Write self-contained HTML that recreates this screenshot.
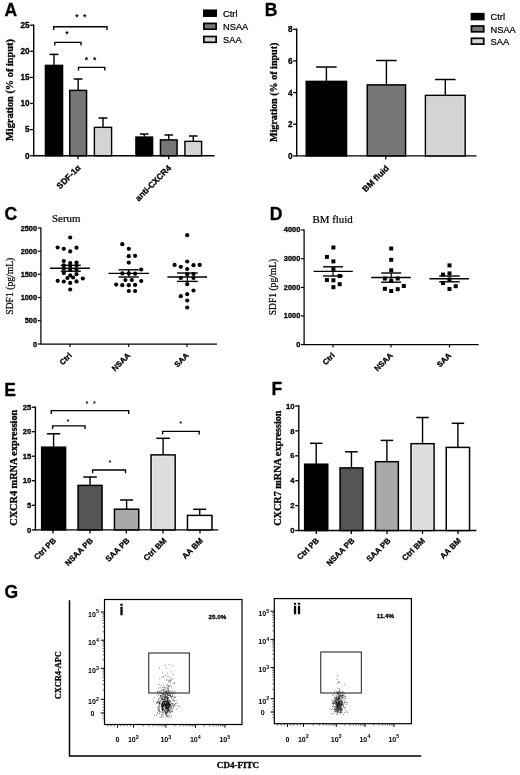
<!DOCTYPE html>
<html><head><meta charset="utf-8"><title>Figure</title>
<style>html,body{margin:0;padding:0;background:#fff}svg{display:block;filter:blur(0.35px)}</style></head>
<body><svg width="520" height="775" viewBox="0 0 520 775">
<rect width="520" height="775" fill="#fff"/>
<text x="4.60" y="15.80" font-family="Liberation Sans, sans-serif" font-size="17.5" font-weight="bold" stroke="#000" stroke-width="0.3" text-anchor="start">A</text>
<line x1="33.70" y1="24.50" x2="33.70" y2="156.40" stroke="#000" stroke-width="1.4"/>
<line x1="30.10" y1="25.20" x2="33.70" y2="25.20" stroke="#000" stroke-width="1.2999999999999998"/>
<text x="29.50" y="28.00" font-family="Liberation Sans, sans-serif" font-size="8.2" font-weight="bold" stroke="#000" stroke-width="0.3" text-anchor="end">25</text>
<line x1="30.10" y1="51.30" x2="33.70" y2="51.30" stroke="#000" stroke-width="1.2999999999999998"/>
<text x="29.50" y="54.10" font-family="Liberation Sans, sans-serif" font-size="8.2" font-weight="bold" stroke="#000" stroke-width="0.3" text-anchor="end">20</text>
<line x1="30.10" y1="77.40" x2="33.70" y2="77.40" stroke="#000" stroke-width="1.2999999999999998"/>
<text x="29.50" y="80.20" font-family="Liberation Sans, sans-serif" font-size="8.2" font-weight="bold" stroke="#000" stroke-width="0.3" text-anchor="end">15</text>
<line x1="30.10" y1="103.50" x2="33.70" y2="103.50" stroke="#000" stroke-width="1.2999999999999998"/>
<text x="29.50" y="106.30" font-family="Liberation Sans, sans-serif" font-size="8.2" font-weight="bold" stroke="#000" stroke-width="0.3" text-anchor="end">10</text>
<line x1="30.10" y1="129.60" x2="33.70" y2="129.60" stroke="#000" stroke-width="1.2999999999999998"/>
<text x="29.50" y="132.40" font-family="Liberation Sans, sans-serif" font-size="8.2" font-weight="bold" stroke="#000" stroke-width="0.3" text-anchor="end">5</text>
<line x1="30.10" y1="155.70" x2="33.70" y2="155.70" stroke="#000" stroke-width="1.2999999999999998"/>
<text x="29.50" y="158.50" font-family="Liberation Sans, sans-serif" font-size="8.2" font-weight="bold" stroke="#000" stroke-width="0.3" text-anchor="end">0</text>
<line x1="33.70" y1="155.70" x2="214.50" y2="155.70" stroke="#000" stroke-width="1.4"/>
<line x1="78.00" y1="155.70" x2="78.00" y2="159.20" stroke="#000" stroke-width="1.2999999999999998"/>
<line x1="168.70" y1="155.70" x2="168.70" y2="159.20" stroke="#000" stroke-width="1.2999999999999998"/>
<line x1="54.00" y1="54.40" x2="54.00" y2="65.40" stroke="#000" stroke-width="1.4"/>
<line x1="49.55" y1="54.40" x2="58.45" y2="54.40" stroke="#000" stroke-width="1.5"/>
<rect x="45.45" y="65.40" width="17.10" height="90.30" fill="#000" stroke="#000" stroke-width="1.5"/>
<line x1="78.15" y1="79.00" x2="78.15" y2="90.40" stroke="#000" stroke-width="1.4"/>
<line x1="73.78" y1="79.00" x2="82.52" y2="79.00" stroke="#000" stroke-width="1.5"/>
<rect x="69.75" y="90.40" width="16.80" height="65.30" fill="#777777" stroke="#000" stroke-width="1.5"/>
<line x1="103.00" y1="118.00" x2="103.00" y2="127.40" stroke="#000" stroke-width="1.4"/>
<line x1="98.55" y1="118.00" x2="107.45" y2="118.00" stroke="#000" stroke-width="1.5"/>
<rect x="94.45" y="127.40" width="17.10" height="28.30" fill="#f4f4f4" stroke="#000" stroke-width="1.5"/>
<rect x="95.95" y="128.90" width="14.10" height="25.90" fill="#d4d4d4"/>
<line x1="144.25" y1="134.00" x2="144.25" y2="137.10" stroke="#000" stroke-width="1.4"/>
<line x1="139.93" y1="134.00" x2="148.57" y2="134.00" stroke="#000" stroke-width="1.5"/>
<rect x="135.95" y="137.10" width="16.60" height="18.60" fill="#000" stroke="#000" stroke-width="1.5"/>
<line x1="168.75" y1="135.00" x2="168.75" y2="139.90" stroke="#000" stroke-width="1.4"/>
<line x1="164.43" y1="135.00" x2="173.07" y2="135.00" stroke="#000" stroke-width="1.5"/>
<rect x="160.45" y="139.90" width="16.60" height="15.80" fill="#777777" stroke="#000" stroke-width="1.5"/>
<line x1="193.25" y1="136.00" x2="193.25" y2="141.40" stroke="#000" stroke-width="1.4"/>
<line x1="188.93" y1="136.00" x2="197.57" y2="136.00" stroke="#000" stroke-width="1.5"/>
<rect x="184.95" y="141.40" width="16.60" height="14.30" fill="#f4f4f4" stroke="#000" stroke-width="1.5"/>
<rect x="186.45" y="142.90" width="13.60" height="11.90" fill="#d4d4d4"/>
<path d="M53.70 30.00V26.70H107.00V30.00" fill="none" stroke="#000" stroke-width="1.35"/>
<path d="M54.80 45.60V42.30H81.00V45.60" fill="none" stroke="#000" stroke-width="1.35"/>
<path d="M78.50 70.60V67.30H104.80V70.60" fill="none" stroke="#000" stroke-width="1.35"/>
<text x="76.90" y="19.57" font-family="Liberation Sans, sans-serif" font-size="8.5" font-weight="bold" text-anchor="middle">*</text>
<text x="84.75" y="19.57" font-family="Liberation Sans, sans-serif" font-size="8.5" font-weight="bold" text-anchor="middle">*</text>
<text x="66.90" y="37.43" font-family="Liberation Sans, sans-serif" font-size="8.5" font-weight="bold" text-anchor="middle">*</text>
<text x="86.50" y="62.58" font-family="Liberation Sans, sans-serif" font-size="8.5" font-weight="bold" text-anchor="middle">*</text>
<text x="94.60" y="62.58" font-family="Liberation Sans, sans-serif" font-size="8.5" font-weight="bold" text-anchor="middle">*</text>
<text x="81.20" y="168.30" font-family="Liberation Sans, sans-serif" font-size="8.5" font-weight="bold" stroke="#000" stroke-width="0.3" text-anchor="end" transform="rotate(-45 81.20 168.30)">SDF-1α</text>
<text x="171.80" y="168.60" font-family="Liberation Sans, sans-serif" font-size="8.5" font-weight="bold" stroke="#000" stroke-width="0.3" text-anchor="end" transform="rotate(-45 171.80 168.60)">anti-CXCR4</text>
<text x="13.30" y="90.00" font-family="Liberation Serif, serif" font-size="10.8" font-weight="bold" stroke="#000" stroke-width="0.3" text-anchor="middle" transform="rotate(-90 13.30 90.00)" textLength="102" lengthAdjust="spacingAndGlyphs">Migration (% of input)</text>
<rect x="203.85" y="10.30" width="12.30" height="5.80" fill="#000" stroke="#000" stroke-width="1.7"/>
<text x="223.00" y="17.10" font-family="Liberation Sans, sans-serif" font-size="9.3" font-weight="normal" stroke="#000" stroke-width="0.22" text-anchor="start">Ctrl</text>
<rect x="203.85" y="23.40" width="12.30" height="5.80" fill="#777777" stroke="#000" stroke-width="1.7"/>
<text x="223.00" y="30.20" font-family="Liberation Sans, sans-serif" font-size="9.3" font-weight="normal" stroke="#000" stroke-width="0.22" text-anchor="start">NSAA</text>
<rect x="203.85" y="36.50" width="12.30" height="5.80" fill="#d4d4d4" stroke="#000" stroke-width="1.7"/>
<text x="223.00" y="43.30" font-family="Liberation Sans, sans-serif" font-size="9.3" font-weight="normal" stroke="#000" stroke-width="0.22" text-anchor="start">SAA</text>
<text x="264.70" y="15.60" font-family="Liberation Sans, sans-serif" font-size="17.5" font-weight="bold" stroke="#000" stroke-width="0.3" text-anchor="start">B</text>
<line x1="296.70" y1="28.60" x2="296.70" y2="156.60" stroke="#000" stroke-width="1.4"/>
<line x1="293.10" y1="29.30" x2="296.70" y2="29.30" stroke="#000" stroke-width="1.2999999999999998"/>
<text x="292.50" y="32.35" font-family="Liberation Sans, sans-serif" font-size="8.2" font-weight="bold" stroke="#000" stroke-width="0.3" text-anchor="end">8</text>
<line x1="293.10" y1="60.90" x2="296.70" y2="60.90" stroke="#000" stroke-width="1.2999999999999998"/>
<text x="292.50" y="63.95" font-family="Liberation Sans, sans-serif" font-size="8.2" font-weight="bold" stroke="#000" stroke-width="0.3" text-anchor="end">6</text>
<line x1="293.10" y1="92.60" x2="296.70" y2="92.60" stroke="#000" stroke-width="1.2999999999999998"/>
<text x="292.50" y="95.65" font-family="Liberation Sans, sans-serif" font-size="8.2" font-weight="bold" stroke="#000" stroke-width="0.3" text-anchor="end">4</text>
<line x1="293.10" y1="124.20" x2="296.70" y2="124.20" stroke="#000" stroke-width="1.2999999999999998"/>
<text x="292.50" y="127.25" font-family="Liberation Sans, sans-serif" font-size="8.2" font-weight="bold" stroke="#000" stroke-width="0.3" text-anchor="end">2</text>
<line x1="293.10" y1="155.90" x2="296.70" y2="155.90" stroke="#000" stroke-width="1.2999999999999998"/>
<text x="292.50" y="158.95" font-family="Liberation Sans, sans-serif" font-size="8.2" font-weight="bold" stroke="#000" stroke-width="0.3" text-anchor="end">0</text>
<line x1="296.70" y1="155.90" x2="476.50" y2="155.90" stroke="#000" stroke-width="1.4"/>
<line x1="385.80" y1="155.90" x2="385.80" y2="159.40" stroke="#000" stroke-width="1.2999999999999998"/>
<line x1="326.40" y1="67.00" x2="326.40" y2="81.40" stroke="#000" stroke-width="1.4"/>
<line x1="316.15" y1="67.00" x2="336.65" y2="67.00" stroke="#000" stroke-width="1.5"/>
<rect x="306.25" y="81.40" width="40.30" height="74.50" fill="#000" stroke="#000" stroke-width="1.5"/>
<line x1="386.40" y1="60.50" x2="386.40" y2="84.90" stroke="#000" stroke-width="1.4"/>
<line x1="376.15" y1="60.50" x2="396.65" y2="60.50" stroke="#000" stroke-width="1.5"/>
<rect x="367.25" y="84.90" width="38.30" height="71.00" fill="#777777" stroke="#000" stroke-width="1.5"/>
<line x1="445.30" y1="79.50" x2="445.30" y2="95.40" stroke="#000" stroke-width="1.4"/>
<line x1="435.05" y1="79.50" x2="455.55" y2="79.50" stroke="#000" stroke-width="1.5"/>
<rect x="425.45" y="95.40" width="39.70" height="60.50" fill="#f4f4f4" stroke="#000" stroke-width="1.5"/>
<rect x="426.95" y="96.90" width="36.70" height="58.10" fill="#d4d4d4"/>
<text x="389.50" y="168.80" font-family="Liberation Sans, sans-serif" font-size="8.5" font-weight="bold" stroke="#000" stroke-width="0.3" text-anchor="end" transform="rotate(-45 389.50 168.80)">BM fluid</text>
<text x="277.20" y="92.30" font-family="Liberation Serif, serif" font-size="10.8" font-weight="bold" stroke="#000" stroke-width="0.3" text-anchor="middle" transform="rotate(-90 277.20 92.30)" textLength="99.5" lengthAdjust="spacingAndGlyphs">Migration (% of input)</text>
<rect x="471.45" y="13.70" width="12.30" height="5.80" fill="#000" stroke="#000" stroke-width="1.7"/>
<text x="490.50" y="20.30" font-family="Liberation Sans, sans-serif" font-size="9.3" font-weight="normal" stroke="#000" stroke-width="0.22" text-anchor="start">Ctrl</text>
<rect x="471.45" y="26.00" width="12.30" height="5.80" fill="#777777" stroke="#000" stroke-width="1.7"/>
<text x="490.50" y="32.60" font-family="Liberation Sans, sans-serif" font-size="9.3" font-weight="normal" stroke="#000" stroke-width="0.22" text-anchor="start">NSAA</text>
<rect x="471.45" y="38.30" width="12.30" height="5.80" fill="#d4d4d4" stroke="#000" stroke-width="1.7"/>
<text x="490.50" y="44.90" font-family="Liberation Sans, sans-serif" font-size="9.3" font-weight="normal" stroke="#000" stroke-width="0.22" text-anchor="start">SAA</text>
<text x="4.60" y="219.70" font-family="Liberation Sans, sans-serif" font-size="17.5" font-weight="bold" stroke="#000" stroke-width="0.3" text-anchor="start">C</text>
<text x="52.00" y="221.50" font-family="Liberation Serif, serif" font-size="10.9" font-weight="normal" stroke="#000" stroke-width="0.22" text-anchor="start">Serum</text>
<line x1="40.90" y1="227.38" x2="40.90" y2="344.62" stroke="#000" stroke-width="1.25"/>
<line x1="37.70" y1="228.00" x2="40.90" y2="228.00" stroke="#000" stroke-width="1.15"/>
<text x="37.10" y="230.56" font-family="Liberation Sans, sans-serif" font-size="7.4" font-weight="bold" stroke="#000" stroke-width="0.3" text-anchor="end">2500</text>
<line x1="37.70" y1="251.20" x2="40.90" y2="251.20" stroke="#000" stroke-width="1.15"/>
<text x="37.10" y="253.76" font-family="Liberation Sans, sans-serif" font-size="7.4" font-weight="bold" stroke="#000" stroke-width="0.3" text-anchor="end">2000</text>
<line x1="37.70" y1="274.30" x2="40.90" y2="274.30" stroke="#000" stroke-width="1.15"/>
<text x="37.10" y="276.86" font-family="Liberation Sans, sans-serif" font-size="7.4" font-weight="bold" stroke="#000" stroke-width="0.3" text-anchor="end">1500</text>
<line x1="37.70" y1="297.50" x2="40.90" y2="297.50" stroke="#000" stroke-width="1.15"/>
<text x="37.10" y="300.06" font-family="Liberation Sans, sans-serif" font-size="7.4" font-weight="bold" stroke="#000" stroke-width="0.3" text-anchor="end">1000</text>
<line x1="37.70" y1="320.70" x2="40.90" y2="320.70" stroke="#000" stroke-width="1.15"/>
<text x="37.10" y="323.26" font-family="Liberation Sans, sans-serif" font-size="7.4" font-weight="bold" stroke="#000" stroke-width="0.3" text-anchor="end">500</text>
<line x1="37.70" y1="344.00" x2="40.90" y2="344.00" stroke="#000" stroke-width="1.15"/>
<text x="37.10" y="346.56" font-family="Liberation Sans, sans-serif" font-size="7.4" font-weight="bold" stroke="#000" stroke-width="0.3" text-anchor="end">0</text>
<line x1="40.90" y1="344.00" x2="217.00" y2="344.00" stroke="#000" stroke-width="1.25"/>
<line x1="70.00" y1="344.00" x2="70.00" y2="347.00" stroke="#000" stroke-width="1.15"/>
<line x1="128.70" y1="344.00" x2="128.70" y2="347.00" stroke="#000" stroke-width="1.15"/>
<line x1="187.00" y1="344.00" x2="187.00" y2="347.00" stroke="#000" stroke-width="1.15"/>
<circle cx="70.2" cy="237.5" r="2.1" fill="#000"/>
<circle cx="57.7" cy="247.5" r="2.1" fill="#000"/>
<circle cx="63.8" cy="248.8" r="2.1" fill="#000"/>
<circle cx="76.5" cy="247.7" r="2.1" fill="#000"/>
<circle cx="70.2" cy="251.4" r="2.1" fill="#000"/>
<circle cx="63.8" cy="261.1" r="2.1" fill="#000"/>
<circle cx="70.2" cy="263.1" r="2.1" fill="#000"/>
<circle cx="76.5" cy="262.6" r="2.1" fill="#000"/>
<circle cx="63.8" cy="265.4" r="2.1" fill="#000"/>
<circle cx="70.2" cy="265.8" r="2.1" fill="#000"/>
<circle cx="76.5" cy="265.6" r="2.1" fill="#000"/>
<circle cx="63.8" cy="268.8" r="2.1" fill="#000"/>
<circle cx="70.2" cy="270" r="2.1" fill="#000"/>
<circle cx="76.5" cy="269.5" r="2.1" fill="#000"/>
<circle cx="63.8" cy="273.1" r="2.1" fill="#000"/>
<circle cx="76.5" cy="274.2" r="2.1" fill="#000"/>
<circle cx="70.2" cy="275.4" r="2.1" fill="#000"/>
<circle cx="67.4" cy="278" r="2.1" fill="#000"/>
<circle cx="73.1" cy="277.5" r="2.1" fill="#000"/>
<circle cx="82.8" cy="278.5" r="2.1" fill="#000"/>
<circle cx="57.7" cy="280.8" r="2.1" fill="#000"/>
<circle cx="63.8" cy="281.5" r="2.1" fill="#000"/>
<circle cx="76.5" cy="281.4" r="2.1" fill="#000"/>
<circle cx="70.2" cy="282.9" r="2.1" fill="#000"/>
<circle cx="70.2" cy="289.5" r="2.1" fill="#000"/>
<line x1="50.00" y1="268.30" x2="90.00" y2="268.30" stroke="#000" stroke-width="1.4"/>
<line x1="60.80" y1="265.30" x2="80.80" y2="265.30" stroke="#000" stroke-width="1.4"/>
<line x1="60.80" y1="271.20" x2="80.80" y2="271.20" stroke="#000" stroke-width="1.4"/>
<line x1="70.80" y1="265.30" x2="70.80" y2="271.20" stroke="#000" stroke-width="1.2"/>
<circle cx="122.3" cy="244.2" r="2.1" fill="#000"/>
<circle cx="128.8" cy="248.8" r="2.1" fill="#000"/>
<circle cx="128.8" cy="256.2" r="2.1" fill="#000"/>
<circle cx="135.1" cy="255.8" r="2.1" fill="#000"/>
<circle cx="128.8" cy="262.6" r="2.1" fill="#000"/>
<circle cx="141.2" cy="269.5" r="2.1" fill="#000"/>
<circle cx="122.3" cy="273.4" r="2.1" fill="#000"/>
<circle cx="128.8" cy="273.4" r="2.1" fill="#000"/>
<circle cx="135.1" cy="273.7" r="2.1" fill="#000"/>
<circle cx="125.4" cy="280" r="2.1" fill="#000"/>
<circle cx="131.8" cy="280" r="2.1" fill="#000"/>
<circle cx="141.2" cy="281" r="2.1" fill="#000"/>
<circle cx="116.2" cy="284.6" r="2.1" fill="#000"/>
<circle cx="122.3" cy="285.2" r="2.1" fill="#000"/>
<circle cx="128.8" cy="285.2" r="2.1" fill="#000"/>
<circle cx="135.1" cy="284.9" r="2.1" fill="#000"/>
<circle cx="128.8" cy="291" r="2.1" fill="#000"/>
<circle cx="135.1" cy="291" r="2.1" fill="#000"/>
<line x1="108.50" y1="273.40" x2="149.00" y2="273.40" stroke="#000" stroke-width="1.4"/>
<line x1="118.50" y1="269.80" x2="138.80" y2="269.80" stroke="#000" stroke-width="1.4"/>
<line x1="118.50" y1="277.00" x2="138.80" y2="277.00" stroke="#000" stroke-width="1.4"/>
<line x1="128.65" y1="269.80" x2="128.65" y2="277.00" stroke="#000" stroke-width="1.2"/>
<circle cx="187.2" cy="235.2" r="2.1" fill="#000"/>
<circle cx="187.2" cy="261.5" r="2.1" fill="#000"/>
<circle cx="174.6" cy="264.9" r="2.1" fill="#000"/>
<circle cx="180.8" cy="266.8" r="2.1" fill="#000"/>
<circle cx="193.5" cy="265.2" r="2.1" fill="#000"/>
<circle cx="199.7" cy="264.9" r="2.1" fill="#000"/>
<circle cx="187.2" cy="269.1" r="2.1" fill="#000"/>
<circle cx="187.2" cy="274.2" r="2.1" fill="#000"/>
<circle cx="193.5" cy="274" r="2.1" fill="#000"/>
<circle cx="180.8" cy="278" r="2.1" fill="#000"/>
<circle cx="193.5" cy="278" r="2.1" fill="#000"/>
<circle cx="187.2" cy="284.2" r="2.1" fill="#000"/>
<circle cx="193.5" cy="290.5" r="2.1" fill="#000"/>
<circle cx="187.2" cy="294.2" r="2.1" fill="#000"/>
<circle cx="180.8" cy="296.2" r="2.1" fill="#000"/>
<circle cx="187.2" cy="300.5" r="2.1" fill="#000"/>
<circle cx="187.2" cy="307.5" r="2.1" fill="#000"/>
<line x1="167.40" y1="277.00" x2="207.00" y2="277.00" stroke="#000" stroke-width="1.4"/>
<line x1="177.00" y1="273.00" x2="197.70" y2="273.00" stroke="#000" stroke-width="1.4"/>
<line x1="177.00" y1="281.40" x2="197.70" y2="281.40" stroke="#000" stroke-width="1.4"/>
<line x1="187.35" y1="273.00" x2="187.35" y2="281.40" stroke="#000" stroke-width="1.2"/>
<text x="72.20" y="356.00" font-family="Liberation Sans, sans-serif" font-size="7.8" font-weight="bold" stroke="#000" stroke-width="0.3" text-anchor="end" transform="rotate(-45 72.20 356.00)">Ctrl</text>
<text x="130.70" y="356.00" font-family="Liberation Sans, sans-serif" font-size="7.8" font-weight="bold" stroke="#000" stroke-width="0.3" text-anchor="end" transform="rotate(-45 130.70 356.00)">NSAA</text>
<text x="189.20" y="356.00" font-family="Liberation Sans, sans-serif" font-size="7.8" font-weight="bold" stroke="#000" stroke-width="0.3" text-anchor="end" transform="rotate(-45 189.20 356.00)">SAA</text>
<text x="13.40" y="286.20" font-family="Liberation Serif, serif" font-size="9.5" font-weight="normal" stroke="#000" stroke-width="0.22" text-anchor="middle" transform="rotate(-90 13.40 286.20)" textLength="57" lengthAdjust="spacingAndGlyphs">SDF1 (pg/mL)</text>
<text x="269.70" y="220.20" font-family="Liberation Sans, sans-serif" font-size="17.5" font-weight="bold" stroke="#000" stroke-width="0.3" text-anchor="start">D</text>
<text x="312.50" y="222.50" font-family="Liberation Serif, serif" font-size="10.9" font-weight="normal" stroke="#000" stroke-width="0.22" text-anchor="start">BM fluid</text>
<line x1="304.10" y1="229.38" x2="304.10" y2="345.23" stroke="#000" stroke-width="1.25"/>
<line x1="300.90" y1="230.00" x2="304.10" y2="230.00" stroke="#000" stroke-width="1.15"/>
<text x="300.30" y="232.26" font-family="Liberation Sans, sans-serif" font-size="7.4" font-weight="bold" stroke="#000" stroke-width="0.3" text-anchor="end">4000</text>
<line x1="300.90" y1="258.70" x2="304.10" y2="258.70" stroke="#000" stroke-width="1.15"/>
<text x="300.30" y="260.96" font-family="Liberation Sans, sans-serif" font-size="7.4" font-weight="bold" stroke="#000" stroke-width="0.3" text-anchor="end">3000</text>
<line x1="300.90" y1="287.40" x2="304.10" y2="287.40" stroke="#000" stroke-width="1.15"/>
<text x="300.30" y="289.66" font-family="Liberation Sans, sans-serif" font-size="7.4" font-weight="bold" stroke="#000" stroke-width="0.3" text-anchor="end">2000</text>
<line x1="300.90" y1="316.00" x2="304.10" y2="316.00" stroke="#000" stroke-width="1.15"/>
<text x="300.30" y="318.26" font-family="Liberation Sans, sans-serif" font-size="7.4" font-weight="bold" stroke="#000" stroke-width="0.3" text-anchor="end">1000</text>
<line x1="300.90" y1="344.60" x2="304.10" y2="344.60" stroke="#000" stroke-width="1.15"/>
<text x="300.30" y="346.86" font-family="Liberation Sans, sans-serif" font-size="7.4" font-weight="bold" stroke="#000" stroke-width="0.3" text-anchor="end">0</text>
<line x1="304.10" y1="344.60" x2="478.70" y2="344.60" stroke="#000" stroke-width="1.25"/>
<line x1="333.00" y1="344.60" x2="333.00" y2="347.60" stroke="#000" stroke-width="1.15"/>
<line x1="391.00" y1="344.60" x2="391.00" y2="347.60" stroke="#000" stroke-width="1.15"/>
<line x1="449.50" y1="344.60" x2="449.50" y2="347.60" stroke="#000" stroke-width="1.15"/>
<rect x="331.40" y="245.50" width="4.0" height="4.0" fill="#000"/>
<rect x="324.90" y="254.90" width="4.0" height="4.0" fill="#000"/>
<rect x="331.40" y="259.40" width="4.0" height="4.0" fill="#000"/>
<rect x="331.40" y="267.20" width="4.0" height="4.0" fill="#000"/>
<rect x="337.70" y="274.00" width="4.0" height="4.0" fill="#000"/>
<rect x="324.90" y="278.00" width="4.0" height="4.0" fill="#000"/>
<rect x="331.40" y="278.30" width="4.0" height="4.0" fill="#000"/>
<rect x="337.70" y="282.20" width="4.0" height="4.0" fill="#000"/>
<rect x="331.40" y="285.20" width="4.0" height="4.0" fill="#000"/>
<line x1="313.50" y1="271.40" x2="352.80" y2="271.40" stroke="#000" stroke-width="1.4"/>
<line x1="323.00" y1="266.80" x2="343.00" y2="266.80" stroke="#000" stroke-width="1.4"/>
<line x1="323.00" y1="276.00" x2="343.00" y2="276.00" stroke="#000" stroke-width="1.4"/>
<line x1="333.00" y1="266.80" x2="333.00" y2="276.00" stroke="#000" stroke-width="1.2"/>
<rect x="389.20" y="246.50" width="4.0" height="4.0" fill="#000"/>
<rect x="389.20" y="257.80" width="4.0" height="4.0" fill="#000"/>
<rect x="389.20" y="268.30" width="4.0" height="4.0" fill="#000"/>
<rect x="382.90" y="276.50" width="4.0" height="4.0" fill="#000"/>
<rect x="395.70" y="276.50" width="4.0" height="4.0" fill="#000"/>
<rect x="389.20" y="279.00" width="4.0" height="4.0" fill="#000"/>
<rect x="401.80" y="284.00" width="4.0" height="4.0" fill="#000"/>
<rect x="382.90" y="286.80" width="4.0" height="4.0" fill="#000"/>
<rect x="395.70" y="287.20" width="4.0" height="4.0" fill="#000"/>
<rect x="389.20" y="289.00" width="4.0" height="4.0" fill="#000"/>
<line x1="371.00" y1="277.50" x2="410.80" y2="277.50" stroke="#000" stroke-width="1.4"/>
<line x1="381.20" y1="273.00" x2="401.20" y2="273.00" stroke="#000" stroke-width="1.4"/>
<line x1="381.20" y1="282.20" x2="401.20" y2="282.20" stroke="#000" stroke-width="1.4"/>
<line x1="391.20" y1="273.00" x2="391.20" y2="282.20" stroke="#000" stroke-width="1.2"/>
<rect x="447.50" y="263.40" width="4.0" height="4.0" fill="#000"/>
<rect x="447.50" y="271.40" width="4.0" height="4.0" fill="#000"/>
<rect x="441.00" y="272.60" width="4.0" height="4.0" fill="#000"/>
<rect x="447.50" y="277.50" width="4.0" height="4.0" fill="#000"/>
<rect x="441.00" y="281.00" width="4.0" height="4.0" fill="#000"/>
<rect x="453.70" y="284.20" width="4.0" height="4.0" fill="#000"/>
<rect x="447.50" y="287.00" width="4.0" height="4.0" fill="#000"/>
<line x1="429.50" y1="278.80" x2="469.00" y2="278.80" stroke="#000" stroke-width="1.4"/>
<line x1="439.20" y1="276.00" x2="459.70" y2="276.00" stroke="#000" stroke-width="1.4"/>
<line x1="439.20" y1="281.80" x2="459.70" y2="281.80" stroke="#000" stroke-width="1.4"/>
<line x1="449.45" y1="276.00" x2="449.45" y2="281.80" stroke="#000" stroke-width="1.2"/>
<text x="335.20" y="356.00" font-family="Liberation Sans, sans-serif" font-size="7.8" font-weight="bold" stroke="#000" stroke-width="0.3" text-anchor="end" transform="rotate(-45 335.20 356.00)">Ctrl</text>
<text x="393.20" y="356.00" font-family="Liberation Sans, sans-serif" font-size="7.8" font-weight="bold" stroke="#000" stroke-width="0.3" text-anchor="end" transform="rotate(-45 393.20 356.00)">NSAA</text>
<text x="451.70" y="356.00" font-family="Liberation Sans, sans-serif" font-size="7.8" font-weight="bold" stroke="#000" stroke-width="0.3" text-anchor="end" transform="rotate(-45 451.70 356.00)">SAA</text>
<text x="275.50" y="287.00" font-family="Liberation Serif, serif" font-size="9.5" font-weight="normal" stroke="#000" stroke-width="0.22" text-anchor="middle" transform="rotate(-90 275.50 287.00)" textLength="56.5" lengthAdjust="spacingAndGlyphs">SDF1 (pg/mL)</text>
<text x="4.20" y="395.70" font-family="Liberation Sans, sans-serif" font-size="17.5" font-weight="bold" stroke="#000" stroke-width="0.3" text-anchor="start">E</text>
<line x1="35.40" y1="406.50" x2="35.40" y2="530.60" stroke="#000" stroke-width="1.4"/>
<line x1="31.80" y1="407.20" x2="35.40" y2="407.20" stroke="#000" stroke-width="1.2999999999999998"/>
<text x="31.20" y="409.87" font-family="Liberation Sans, sans-serif" font-size="7.7" font-weight="bold" stroke="#000" stroke-width="0.3" text-anchor="end">25</text>
<line x1="31.80" y1="431.70" x2="35.40" y2="431.70" stroke="#000" stroke-width="1.2999999999999998"/>
<text x="31.20" y="434.37" font-family="Liberation Sans, sans-serif" font-size="7.7" font-weight="bold" stroke="#000" stroke-width="0.3" text-anchor="end">20</text>
<line x1="31.80" y1="456.20" x2="35.40" y2="456.20" stroke="#000" stroke-width="1.2999999999999998"/>
<text x="31.20" y="458.87" font-family="Liberation Sans, sans-serif" font-size="7.7" font-weight="bold" stroke="#000" stroke-width="0.3" text-anchor="end">15</text>
<line x1="31.80" y1="480.70" x2="35.40" y2="480.70" stroke="#000" stroke-width="1.2999999999999998"/>
<text x="31.20" y="483.37" font-family="Liberation Sans, sans-serif" font-size="7.7" font-weight="bold" stroke="#000" stroke-width="0.3" text-anchor="end">10</text>
<line x1="31.80" y1="505.30" x2="35.40" y2="505.30" stroke="#000" stroke-width="1.2999999999999998"/>
<text x="31.20" y="507.97" font-family="Liberation Sans, sans-serif" font-size="7.7" font-weight="bold" stroke="#000" stroke-width="0.3" text-anchor="end">5</text>
<line x1="31.80" y1="529.90" x2="35.40" y2="529.90" stroke="#000" stroke-width="1.2999999999999998"/>
<text x="31.20" y="532.57" font-family="Liberation Sans, sans-serif" font-size="7.7" font-weight="bold" stroke="#000" stroke-width="0.3" text-anchor="end">0</text>
<line x1="35.40" y1="529.90" x2="218.30" y2="529.90" stroke="#000" stroke-width="1.4"/>
<line x1="53.00" y1="529.90" x2="53.00" y2="533.40" stroke="#000" stroke-width="1.2999999999999998"/>
<line x1="90.00" y1="529.90" x2="90.00" y2="533.40" stroke="#000" stroke-width="1.2999999999999998"/>
<line x1="126.30" y1="529.90" x2="126.30" y2="533.40" stroke="#000" stroke-width="1.2999999999999998"/>
<line x1="163.00" y1="529.90" x2="163.00" y2="533.40" stroke="#000" stroke-width="1.2999999999999998"/>
<line x1="200.00" y1="529.90" x2="200.00" y2="533.40" stroke="#000" stroke-width="1.2999999999999998"/>
<line x1="53.60" y1="433.80" x2="53.60" y2="447.20" stroke="#000" stroke-width="1.4"/>
<line x1="46.85" y1="433.80" x2="60.35" y2="433.80" stroke="#000" stroke-width="1.5"/>
<rect x="41.65" y="447.20" width="23.90" height="82.70" fill="#000" stroke="#000" stroke-width="1.5"/>
<line x1="90.05" y1="477.00" x2="90.05" y2="485.40" stroke="#000" stroke-width="1.4"/>
<line x1="83.30" y1="477.00" x2="96.80" y2="477.00" stroke="#000" stroke-width="1.5"/>
<rect x="78.05" y="485.40" width="24.00" height="44.50" fill="#555555" stroke="#000" stroke-width="1.5"/>
<line x1="126.60" y1="500.00" x2="126.60" y2="509.20" stroke="#000" stroke-width="1.4"/>
<line x1="120.10" y1="500.00" x2="133.10" y2="500.00" stroke="#000" stroke-width="1.5"/>
<rect x="114.45" y="509.20" width="24.30" height="20.70" fill="#a9a9a9" stroke="#000" stroke-width="1.5"/>
<line x1="163.10" y1="438.30" x2="163.10" y2="454.90" stroke="#000" stroke-width="1.4"/>
<line x1="156.35" y1="438.30" x2="169.85" y2="438.30" stroke="#000" stroke-width="1.5"/>
<rect x="151.05" y="454.90" width="24.10" height="75.00" fill="#f4f4f4" stroke="#000" stroke-width="1.5"/>
<rect x="152.55" y="456.40" width="21.10" height="72.60" fill="#dddddd"/>
<line x1="199.70" y1="509.30" x2="199.70" y2="515.40" stroke="#000" stroke-width="1.4"/>
<line x1="193.20" y1="509.30" x2="206.20" y2="509.30" stroke="#000" stroke-width="1.5"/>
<rect x="187.45" y="515.40" width="24.50" height="14.50" fill="#fff" stroke="#000" stroke-width="1.5"/>
<path d="M51.20 413.90V410.60H128.70V413.90" fill="none" stroke="#000" stroke-width="1.35"/>
<path d="M52.60 429.10V425.80H85.00V429.10" fill="none" stroke="#000" stroke-width="1.35"/>
<path d="M92.60 473.30V470.00H125.50V473.30" fill="none" stroke="#000" stroke-width="1.35"/>
<path d="M162.60 434.60V431.30H199.20V434.60" fill="none" stroke="#000" stroke-width="1.35"/>
<text x="87.00" y="405.54" font-family="Liberation Sans, sans-serif" font-size="7.2" font-weight="bold" text-anchor="middle">*</text>
<text x="94.30" y="405.54" font-family="Liberation Sans, sans-serif" font-size="7.2" font-weight="bold" text-anchor="middle">*</text>
<text x="67.80" y="423.84" font-family="Liberation Sans, sans-serif" font-size="7.2" font-weight="bold" text-anchor="middle">*</text>
<text x="110.00" y="465.14" font-family="Liberation Sans, sans-serif" font-size="7.2" font-weight="bold" text-anchor="middle">*</text>
<text x="180.75" y="426.24" font-family="Liberation Sans, sans-serif" font-size="7.2" font-weight="bold" text-anchor="middle">*</text>
<text x="56.50" y="541.20" font-family="Liberation Sans, sans-serif" font-size="8" font-weight="bold" stroke="#000" stroke-width="0.3" text-anchor="end" transform="rotate(-45 56.50 541.20)">Ctrl PB</text>
<text x="93.50" y="541.20" font-family="Liberation Sans, sans-serif" font-size="8" font-weight="bold" stroke="#000" stroke-width="0.3" text-anchor="end" transform="rotate(-45 93.50 541.20)">NSAA PB</text>
<text x="130.00" y="541.20" font-family="Liberation Sans, sans-serif" font-size="8" font-weight="bold" stroke="#000" stroke-width="0.3" text-anchor="end" transform="rotate(-45 130.00 541.20)">SAA PB</text>
<text x="167.00" y="541.20" font-family="Liberation Sans, sans-serif" font-size="8" font-weight="bold" stroke="#000" stroke-width="0.3" text-anchor="end" transform="rotate(-45 167.00 541.20)">Ctrl BM</text>
<text x="203.50" y="541.20" font-family="Liberation Sans, sans-serif" font-size="8" font-weight="bold" stroke="#000" stroke-width="0.3" text-anchor="end" transform="rotate(-45 203.50 541.20)">AA BM</text>
<text x="17.40" y="467.70" font-family="Liberation Serif, serif" font-size="10.3" font-weight="bold" stroke="#000" stroke-width="0.3" text-anchor="middle" transform="rotate(-90 17.40 467.70)" textLength="116" lengthAdjust="spacingAndGlyphs">CXCR4 mRNA expression</text>
<text x="271.50" y="394.70" font-family="Liberation Sans, sans-serif" font-size="17.5" font-weight="bold" stroke="#000" stroke-width="0.3" text-anchor="start">F</text>
<line x1="298.80" y1="405.30" x2="298.80" y2="531.20" stroke="#000" stroke-width="1.4"/>
<line x1="295.20" y1="406.00" x2="298.80" y2="406.00" stroke="#000" stroke-width="1.2999999999999998"/>
<text x="294.60" y="408.67" font-family="Liberation Sans, sans-serif" font-size="7.7" font-weight="bold" stroke="#000" stroke-width="0.3" text-anchor="end">10</text>
<line x1="295.20" y1="430.90" x2="298.80" y2="430.90" stroke="#000" stroke-width="1.2999999999999998"/>
<text x="294.60" y="433.57" font-family="Liberation Sans, sans-serif" font-size="7.7" font-weight="bold" stroke="#000" stroke-width="0.3" text-anchor="end">8</text>
<line x1="295.20" y1="455.80" x2="298.80" y2="455.80" stroke="#000" stroke-width="1.2999999999999998"/>
<text x="294.60" y="458.47" font-family="Liberation Sans, sans-serif" font-size="7.7" font-weight="bold" stroke="#000" stroke-width="0.3" text-anchor="end">6</text>
<line x1="295.20" y1="480.70" x2="298.80" y2="480.70" stroke="#000" stroke-width="1.2999999999999998"/>
<text x="294.60" y="483.37" font-family="Liberation Sans, sans-serif" font-size="7.7" font-weight="bold" stroke="#000" stroke-width="0.3" text-anchor="end">4</text>
<line x1="295.20" y1="505.60" x2="298.80" y2="505.60" stroke="#000" stroke-width="1.2999999999999998"/>
<text x="294.60" y="508.27" font-family="Liberation Sans, sans-serif" font-size="7.7" font-weight="bold" stroke="#000" stroke-width="0.3" text-anchor="end">2</text>
<line x1="295.20" y1="530.50" x2="298.80" y2="530.50" stroke="#000" stroke-width="1.2999999999999998"/>
<text x="294.60" y="533.17" font-family="Liberation Sans, sans-serif" font-size="7.7" font-weight="bold" stroke="#000" stroke-width="0.3" text-anchor="end">0</text>
<line x1="298.80" y1="530.50" x2="476.30" y2="530.50" stroke="#000" stroke-width="1.4"/>
<line x1="316.30" y1="530.50" x2="316.30" y2="534.00" stroke="#000" stroke-width="1.2999999999999998"/>
<line x1="351.30" y1="530.50" x2="351.30" y2="534.00" stroke="#000" stroke-width="1.2999999999999998"/>
<line x1="387.00" y1="530.50" x2="387.00" y2="534.00" stroke="#000" stroke-width="1.2999999999999998"/>
<line x1="422.50" y1="530.50" x2="422.50" y2="534.00" stroke="#000" stroke-width="1.2999999999999998"/>
<line x1="458.00" y1="530.50" x2="458.00" y2="534.00" stroke="#000" stroke-width="1.2999999999999998"/>
<line x1="316.20" y1="443.30" x2="316.20" y2="464.20" stroke="#000" stroke-width="1.4"/>
<line x1="309.95" y1="443.30" x2="322.45" y2="443.30" stroke="#000" stroke-width="1.5"/>
<rect x="304.65" y="464.20" width="23.10" height="66.30" fill="#000" stroke="#000" stroke-width="1.5"/>
<line x1="351.45" y1="451.80" x2="351.45" y2="467.90" stroke="#000" stroke-width="1.4"/>
<line x1="345.20" y1="451.80" x2="357.70" y2="451.80" stroke="#000" stroke-width="1.5"/>
<rect x="340.05" y="467.90" width="22.80" height="62.60" fill="#555555" stroke="#000" stroke-width="1.5"/>
<line x1="386.90" y1="440.40" x2="386.90" y2="461.70" stroke="#000" stroke-width="1.4"/>
<line x1="380.65" y1="440.40" x2="393.15" y2="440.40" stroke="#000" stroke-width="1.5"/>
<rect x="375.45" y="461.70" width="22.90" height="68.80" fill="#a9a9a9" stroke="#000" stroke-width="1.5"/>
<line x1="422.55" y1="417.50" x2="422.55" y2="443.70" stroke="#000" stroke-width="1.4"/>
<line x1="416.30" y1="417.50" x2="428.80" y2="417.50" stroke="#000" stroke-width="1.5"/>
<rect x="411.05" y="443.70" width="23.00" height="86.80" fill="#f4f4f4" stroke="#000" stroke-width="1.5"/>
<rect x="412.55" y="445.20" width="20.00" height="84.40" fill="#dddddd"/>
<line x1="457.90" y1="423.30" x2="457.90" y2="447.40" stroke="#000" stroke-width="1.4"/>
<line x1="451.65" y1="423.30" x2="464.15" y2="423.30" stroke="#000" stroke-width="1.5"/>
<rect x="446.25" y="447.40" width="23.30" height="83.10" fill="#fff" stroke="#000" stroke-width="1.5"/>
<text x="319.50" y="541.20" font-family="Liberation Sans, sans-serif" font-size="8" font-weight="bold" stroke="#000" stroke-width="0.3" text-anchor="end" transform="rotate(-45 319.50 541.20)">Ctrl PB</text>
<text x="355.00" y="541.20" font-family="Liberation Sans, sans-serif" font-size="8" font-weight="bold" stroke="#000" stroke-width="0.3" text-anchor="end" transform="rotate(-45 355.00 541.20)">NSAA PB</text>
<text x="391.00" y="541.20" font-family="Liberation Sans, sans-serif" font-size="8" font-weight="bold" stroke="#000" stroke-width="0.3" text-anchor="end" transform="rotate(-45 391.00 541.20)">SAA PB</text>
<text x="425.50" y="541.20" font-family="Liberation Sans, sans-serif" font-size="8" font-weight="bold" stroke="#000" stroke-width="0.3" text-anchor="end" transform="rotate(-45 425.50 541.20)">Ctrl BM</text>
<text x="461.50" y="541.20" font-family="Liberation Sans, sans-serif" font-size="8" font-weight="bold" stroke="#000" stroke-width="0.3" text-anchor="end" transform="rotate(-45 461.50 541.20)">AA BM</text>
<text x="281.30" y="468.10" font-family="Liberation Serif, serif" font-size="10.3" font-weight="bold" stroke="#000" stroke-width="0.3" text-anchor="middle" transform="rotate(-90 281.30 468.10)" textLength="115.3" lengthAdjust="spacingAndGlyphs">CXCR7 mRNA expression</text>
<text x="4.40" y="598.30" font-family="Liberation Sans, sans-serif" font-size="17.5" font-weight="bold" stroke="#000" stroke-width="0.3" text-anchor="start">G</text>
<path d="M69.5 600.2V755.9H421.3" fill="none" stroke="#000" stroke-width="1.5"/>
<text x="60.60" y="675.20" font-family="Liberation Serif, serif" font-size="8.5" font-weight="bold" stroke="#000" stroke-width="0.3" text-anchor="middle" transform="rotate(-90 60.60 675.20)" textLength="48.2" lengthAdjust="spacingAndGlyphs">CXCR4-APC</text>
<text x="238.00" y="767.80" font-family="Liberation Serif, serif" font-size="9" font-weight="bold" stroke="#000" stroke-width="0.3" text-anchor="middle" textLength="42.3" lengthAdjust="spacingAndGlyphs">CD4-FITC</text>
<rect x="104.50" y="599.50" width="137.50" height="125.00" fill="none" stroke="#000" stroke-width="1.2"/>
<rect x="148.80" y="653.00" width="40.50" height="40.00" fill="none" stroke="#000" stroke-width="0.9"/>
<line x1="100.70" y1="612.00" x2="104.50" y2="612.00" stroke="#000" stroke-width="1.0"/>
<text x="88.00" y="616.80" font-family="Liberation Sans, sans-serif" font-size="7.1" font-weight="bold">10<tspan dy="-3.4" font-size="5.4">5</tspan></text>
<line x1="100.70" y1="640.20" x2="104.50" y2="640.20" stroke="#000" stroke-width="1.0"/>
<text x="88.00" y="645.00" font-family="Liberation Sans, sans-serif" font-size="7.1" font-weight="bold">10<tspan dy="-3.4" font-size="5.4">4</tspan></text>
<line x1="100.70" y1="668.30" x2="104.50" y2="668.30" stroke="#000" stroke-width="1.0"/>
<text x="88.00" y="673.10" font-family="Liberation Sans, sans-serif" font-size="7.1" font-weight="bold">10<tspan dy="-3.4" font-size="5.4">3</tspan></text>
<line x1="100.70" y1="699.30" x2="104.50" y2="699.30" stroke="#000" stroke-width="1.0"/>
<text x="88.00" y="704.10" font-family="Liberation Sans, sans-serif" font-size="7.1" font-weight="bold">10<tspan dy="-3.4" font-size="5.4">2</tspan></text>
<line x1="100.70" y1="713.00" x2="104.50" y2="713.00" stroke="#000" stroke-width="1.0"/>
<text x="90.50" y="715.60" font-family="Liberation Sans, sans-serif" font-size="7.1" font-weight="bold">0</text>
<line x1="102.50" y1="631.71" x2="104.50" y2="631.71" stroke="#333" stroke-width="0.7"/>
<line x1="102.50" y1="626.75" x2="104.50" y2="626.75" stroke="#333" stroke-width="0.7"/>
<line x1="102.50" y1="623.22" x2="104.50" y2="623.22" stroke="#333" stroke-width="0.7"/>
<line x1="102.50" y1="620.49" x2="104.50" y2="620.49" stroke="#333" stroke-width="0.7"/>
<line x1="102.50" y1="618.26" x2="104.50" y2="618.26" stroke="#333" stroke-width="0.7"/>
<line x1="102.50" y1="616.37" x2="104.50" y2="616.37" stroke="#333" stroke-width="0.7"/>
<line x1="102.50" y1="614.73" x2="104.50" y2="614.73" stroke="#333" stroke-width="0.7"/>
<line x1="102.50" y1="613.29" x2="104.50" y2="613.29" stroke="#333" stroke-width="0.7"/>
<line x1="102.50" y1="659.84" x2="104.50" y2="659.84" stroke="#333" stroke-width="0.7"/>
<line x1="102.50" y1="654.89" x2="104.50" y2="654.89" stroke="#333" stroke-width="0.7"/>
<line x1="102.50" y1="651.38" x2="104.50" y2="651.38" stroke="#333" stroke-width="0.7"/>
<line x1="102.50" y1="648.66" x2="104.50" y2="648.66" stroke="#333" stroke-width="0.7"/>
<line x1="102.50" y1="646.43" x2="104.50" y2="646.43" stroke="#333" stroke-width="0.7"/>
<line x1="102.50" y1="644.55" x2="104.50" y2="644.55" stroke="#333" stroke-width="0.7"/>
<line x1="102.50" y1="642.92" x2="104.50" y2="642.92" stroke="#333" stroke-width="0.7"/>
<line x1="102.50" y1="641.49" x2="104.50" y2="641.49" stroke="#333" stroke-width="0.7"/>
<line x1="102.50" y1="689.97" x2="104.50" y2="689.97" stroke="#333" stroke-width="0.7"/>
<line x1="102.50" y1="684.51" x2="104.50" y2="684.51" stroke="#333" stroke-width="0.7"/>
<line x1="102.50" y1="680.64" x2="104.50" y2="680.64" stroke="#333" stroke-width="0.7"/>
<line x1="102.50" y1="677.63" x2="104.50" y2="677.63" stroke="#333" stroke-width="0.7"/>
<line x1="102.50" y1="675.18" x2="104.50" y2="675.18" stroke="#333" stroke-width="0.7"/>
<line x1="102.50" y1="673.10" x2="104.50" y2="673.10" stroke="#333" stroke-width="0.7"/>
<line x1="102.50" y1="671.30" x2="104.50" y2="671.30" stroke="#333" stroke-width="0.7"/>
<line x1="102.50" y1="669.72" x2="104.50" y2="669.72" stroke="#333" stroke-width="0.7"/>
<line x1="102.50" y1="718.48" x2="104.50" y2="718.48" stroke="#333" stroke-width="0.7"/>
<line x1="102.50" y1="715.74" x2="104.50" y2="715.74" stroke="#333" stroke-width="0.7"/>
<line x1="102.50" y1="713.00" x2="104.50" y2="713.00" stroke="#333" stroke-width="0.7"/>
<line x1="102.50" y1="710.26" x2="104.50" y2="710.26" stroke="#333" stroke-width="0.7"/>
<line x1="102.50" y1="707.52" x2="104.50" y2="707.52" stroke="#333" stroke-width="0.7"/>
<line x1="102.50" y1="704.78" x2="104.50" y2="704.78" stroke="#333" stroke-width="0.7"/>
<line x1="102.50" y1="702.04" x2="104.50" y2="702.04" stroke="#333" stroke-width="0.7"/>
<line x1="117.50" y1="724.50" x2="117.50" y2="727.70" stroke="#000" stroke-width="1.0"/>
<text x="115.50" y="742.30" font-family="Liberation Sans, sans-serif" font-size="7.1" font-weight="bold">0</text>
<line x1="133.50" y1="724.50" x2="133.50" y2="727.70" stroke="#000" stroke-width="1.0"/>
<text x="127.90" y="742.30" font-family="Liberation Sans, sans-serif" font-size="7.1" font-weight="bold">10<tspan dy="-3.4" font-size="5.4">2</tspan></text>
<line x1="166.00" y1="724.50" x2="166.00" y2="727.70" stroke="#000" stroke-width="1.0"/>
<text x="160.40" y="742.30" font-family="Liberation Sans, sans-serif" font-size="7.1" font-weight="bold">10<tspan dy="-3.4" font-size="5.4">3</tspan></text>
<line x1="195.50" y1="724.50" x2="195.50" y2="727.70" stroke="#000" stroke-width="1.0"/>
<text x="189.90" y="742.30" font-family="Liberation Sans, sans-serif" font-size="7.1" font-weight="bold">10<tspan dy="-3.4" font-size="5.4">4</tspan></text>
<line x1="225.00" y1="724.50" x2="225.00" y2="727.70" stroke="#000" stroke-width="1.0"/>
<text x="219.40" y="742.30" font-family="Liberation Sans, sans-serif" font-size="7.1" font-weight="bold">10<tspan dy="-3.4" font-size="5.4">5</tspan></text>
<line x1="143.28" y1="724.50" x2="143.28" y2="726.40" stroke="#333" stroke-width="0.7"/>
<line x1="149.01" y1="724.50" x2="149.01" y2="726.40" stroke="#333" stroke-width="0.7"/>
<line x1="153.07" y1="724.50" x2="153.07" y2="726.40" stroke="#333" stroke-width="0.7"/>
<line x1="156.22" y1="724.50" x2="156.22" y2="726.40" stroke="#333" stroke-width="0.7"/>
<line x1="158.79" y1="724.50" x2="158.79" y2="726.40" stroke="#333" stroke-width="0.7"/>
<line x1="160.97" y1="724.50" x2="160.97" y2="726.40" stroke="#333" stroke-width="0.7"/>
<line x1="162.85" y1="724.50" x2="162.85" y2="726.40" stroke="#333" stroke-width="0.7"/>
<line x1="164.51" y1="724.50" x2="164.51" y2="726.40" stroke="#333" stroke-width="0.7"/>
<line x1="174.88" y1="724.50" x2="174.88" y2="726.40" stroke="#333" stroke-width="0.7"/>
<line x1="180.08" y1="724.50" x2="180.08" y2="726.40" stroke="#333" stroke-width="0.7"/>
<line x1="183.76" y1="724.50" x2="183.76" y2="726.40" stroke="#333" stroke-width="0.7"/>
<line x1="186.62" y1="724.50" x2="186.62" y2="726.40" stroke="#333" stroke-width="0.7"/>
<line x1="188.96" y1="724.50" x2="188.96" y2="726.40" stroke="#333" stroke-width="0.7"/>
<line x1="190.93" y1="724.50" x2="190.93" y2="726.40" stroke="#333" stroke-width="0.7"/>
<line x1="192.64" y1="724.50" x2="192.64" y2="726.40" stroke="#333" stroke-width="0.7"/>
<line x1="194.15" y1="724.50" x2="194.15" y2="726.40" stroke="#333" stroke-width="0.7"/>
<line x1="204.38" y1="724.50" x2="204.38" y2="726.40" stroke="#333" stroke-width="0.7"/>
<line x1="209.58" y1="724.50" x2="209.58" y2="726.40" stroke="#333" stroke-width="0.7"/>
<line x1="213.26" y1="724.50" x2="213.26" y2="726.40" stroke="#333" stroke-width="0.7"/>
<line x1="216.12" y1="724.50" x2="216.12" y2="726.40" stroke="#333" stroke-width="0.7"/>
<line x1="218.46" y1="724.50" x2="218.46" y2="726.40" stroke="#333" stroke-width="0.7"/>
<line x1="220.43" y1="724.50" x2="220.43" y2="726.40" stroke="#333" stroke-width="0.7"/>
<line x1="222.14" y1="724.50" x2="222.14" y2="726.40" stroke="#333" stroke-width="0.7"/>
<line x1="223.65" y1="724.50" x2="223.65" y2="726.40" stroke="#333" stroke-width="0.7"/>
<line x1="107.90" y1="724.50" x2="107.90" y2="726.40" stroke="#333" stroke-width="0.7"/>
<line x1="111.10" y1="724.50" x2="111.10" y2="726.40" stroke="#333" stroke-width="0.7"/>
<line x1="114.30" y1="724.50" x2="114.30" y2="726.40" stroke="#333" stroke-width="0.7"/>
<line x1="117.50" y1="724.50" x2="117.50" y2="726.40" stroke="#333" stroke-width="0.7"/>
<line x1="120.70" y1="724.50" x2="120.70" y2="726.40" stroke="#333" stroke-width="0.7"/>
<line x1="123.90" y1="724.50" x2="123.90" y2="726.40" stroke="#333" stroke-width="0.7"/>
<line x1="127.10" y1="724.50" x2="127.10" y2="726.40" stroke="#333" stroke-width="0.7"/>
<line x1="130.30" y1="724.50" x2="130.30" y2="726.40" stroke="#333" stroke-width="0.7"/>
<text x="119.50" y="614.50" font-family="Liberation Sans, sans-serif" font-size="14.5" font-weight="bold" stroke="#000" stroke-width="0.3" text-anchor="start">i</text>
<text x="208.60" y="619.30" font-family="Liberation Sans, sans-serif" font-size="6.2" font-weight="bold" stroke="#000" stroke-width="0.3" text-anchor="start">25.0%</text>
<path d="M168.4 709.9h.8M162.5 703.3h.8M164.7 704.2h.8M166.9 705.2h.8M166.4 702.1h.8M159.9 696.0h.8M154.2 715.4h.8M167.4 701.2h.8M167.7 707.1h.8M160.4 696.2h.8M163.2 702.7h.8M165.2 706.3h.8M170.5 701.8h.8M172.0 700.6h.8M174.5 704.6h.8M172.5 712.0h.8M161.8 706.7h.8M165.4 704.4h.8M162.6 714.0h.8M167.5 692.0h.8M162.6 702.1h.8M159.0 691.9h.8M168.9 691.5h.8M173.2 708.2h.8M175.3 703.8h.8M161.8 709.0h.8M163.6 705.0h.8M171.0 707.2h.8M165.7 709.0h.8M160.6 697.4h.8M168.3 680.1h.8M162.5 694.8h.8M168.7 664.6h.8M166.7 707.4h.8M161.1 704.9h.8M169.1 704.4h.8M158.0 699.5h.8M158.4 703.4h.8M176.2 709.1h.8M172.2 695.8h.8M164.3 705.6h.8M167.4 705.3h.8M167.2 708.0h.8M167.5 704.3h.8M165.1 705.1h.8M168.6 688.2h.8M167.7 702.7h.8M168.3 686.0h.8M167.7 705.9h.8M165.0 713.2h.8M173.8 706.0h.8M169.6 711.0h.8M156.4 702.0h.8M166.1 685.6h.8M168.8 705.1h.8M159.2 702.0h.8M169.4 677.5h.8M166.2 680.2h.8M161.8 703.3h.8M166.2 703.6h.8M169.6 711.3h.8M165.0 675.3h.8M166.0 707.7h.8M166.9 710.7h.8M159.4 678.8h.8M166.6 712.8h.8M170.0 682.1h.8M162.3 704.9h.8M160.9 714.8h.8M156.9 692.9h.8M173.0 706.0h.8M167.1 711.4h.8M162.2 710.5h.8M152.6 699.3h.8M169.0 716.9h.8M166.8 688.9h.8M164.3 710.5h.8M161.1 704.3h.8M168.4 701.1h.8M164.3 711.4h.8M171.0 698.2h.8M168.1 692.5h.8M160.6 690.9h.8M164.8 701.5h.8M166.4 705.2h.8M162.5 703.0h.8M161.4 698.3h.8M164.8 711.1h.8M168.3 702.9h.8M174.5 693.8h.8M163.3 692.1h.8M159.3 704.0h.8M159.4 706.7h.8M173.2 700.6h.8M166.0 668.0h.8M172.6 678.8h.8M168.2 707.9h.8M165.7 706.2h.8M168.0 690.3h.8M164.6 697.5h.8M172.1 695.9h.8M168.8 702.9h.8M175.5 703.5h.8M161.9 706.7h.8M166.6 708.2h.8M172.2 705.3h.8M168.6 704.8h.8M163.7 704.1h.8M168.6 681.8h.8M165.3 712.3h.8M167.0 707.7h.8M170.1 680.1h.8M170.1 712.9h.8M164.9 701.5h.8M164.3 699.7h.8M170.0 701.7h.8M167.5 697.4h.8M165.0 691.9h.8M158.3 700.7h.8M168.4 708.5h.8M167.1 706.1h.8M166.5 708.2h.8M165.8 700.4h.8M167.7 709.9h.8M165.6 705.1h.8M162.4 702.9h.8M167.9 703.0h.8M157.2 692.3h.8M165.8 697.0h.8M166.1 693.8h.8M163.2 685.2h.8M163.0 706.7h.8M166.2 704.1h.8M163.0 712.2h.8M171.1 686.5h.8M165.7 708.3h.8M168.7 710.4h.8M174.4 701.3h.8M166.1 702.2h.8M168.9 704.3h.8M162.1 704.2h.8M169.7 704.5h.8M164.8 705.1h.8M164.8 707.6h.8M157.0 702.3h.8M163.3 690.8h.8M161.1 716.5h.8M164.8 697.6h.8M169.2 695.7h.8M164.6 692.1h.8M161.7 703.5h.8M169.4 680.9h.8M160.7 686.1h.8M165.8 706.0h.8M164.6 706.0h.8M161.7 689.6h.8M160.3 703.8h.8M165.6 704.2h.8M159.4 703.0h.8M164.0 704.3h.8M166.9 703.9h.8M162.1 712.1h.8M165.0 697.1h.8M166.6 697.1h.8M162.4 706.5h.8M168.8 701.4h.8M169.7 707.8h.8M167.1 700.7h.8M160.9 699.0h.8M165.0 714.8h.8M170.4 715.4h.8M164.5 695.8h.8M168.7 691.9h.8M167.6 715.4h.8M164.0 703.0h.8M168.3 703.3h.8M172.1 690.7h.8M162.2 708.7h.8M163.3 709.8h.8M165.7 703.1h.8M167.4 700.6h.8M171.5 704.3h.8M159.2 711.0h.8M163.0 694.7h.8M156.0 715.2h.8M162.0 709.8h.8M167.1 705.0h.8M169.8 694.7h.8M164.6 701.2h.8M165.4 713.8h.8M163.7 687.7h.8M159.1 668.2h.8M164.0 703.7h.8M159.9 700.9h.8M163.4 706.5h.8M164.4 701.2h.8M169.3 709.5h.8M165.0 701.6h.8M169.7 705.7h.8M167.3 708.9h.8M163.4 717.6h.8M159.3 706.3h.8M167.3 703.2h.8M166.8 704.0h.8M172.7 683.6h.8M162.1 707.3h.8M165.0 705.7h.8M167.3 703.8h.8M158.4 694.6h.8M165.3 707.9h.8M157.7 708.2h.8M167.6 676.4h.8M165.8 710.3h.8M162.0 711.0h.8M166.4 679.7h.8M166.4 692.9h.8M168.1 697.7h.8M154.2 697.4h.8M158.5 702.5h.8M165.1 705.9h.8M177.3 703.1h.8M167.3 699.5h.8M161.7 709.5h.8M168.3 700.7h.8M168.0 710.0h.8M165.9 713.6h.8M164.6 691.4h.8M165.8 716.4h.8M165.2 705.6h.8M163.1 698.1h.8M161.8 694.9h.8M168.6 705.2h.8M164.7 701.4h.8M165.2 696.4h.8M168.5 703.5h.8M167.9 695.5h.8M171.2 709.6h.8M164.4 705.1h.8M171.0 707.9h.8M165.0 707.3h.8M174.4 705.9h.8M166.0 712.2h.8M159.1 702.4h.8M165.5 711.6h.8M163.4 701.9h.8M162.8 702.9h.8M167.4 703.5h.8M170.8 696.9h.8M160.8 695.8h.8M173.4 692.3h.8M162.4 705.1h.8M159.6 696.0h.8M171.0 696.9h.8M170.7 706.0h.8M165.8 707.5h.8M163.7 709.2h.8M163.8 710.7h.8M164.4 703.4h.8M162.7 712.3h.8M166.6 687.6h.8M167.0 698.0h.8M171.9 665.6h.8M165.6 709.3h.8M168.6 702.4h.8M170.1 684.0h.8M157.5 701.5h.8M168.2 704.7h.8M164.3 704.4h.8M163.1 710.2h.8M166.5 714.1h.8M165.2 695.0h.8M168.8 707.5h.8M162.0 705.9h.8M161.9 699.4h.8M170.0 696.2h.8M167.1 701.0h.8M159.6 712.2h.8M165.6 707.9h.8M168.9 700.1h.8M157.3 713.3h.8M166.7 716.4h.8M168.0 704.1h.8M169.8 692.6h.8M165.7 697.9h.8M167.2 710.5h.8M165.3 693.3h.8M165.9 692.0h.8M174.8 697.1h.8M162.9 701.1h.8M167.0 706.8h.8M161.6 700.3h.8M168.6 704.6h.8M167.4 709.6h.8M166.8 698.5h.8M168.3 707.1h.8M164.1 702.0h.8M164.4 699.7h.8M162.7 715.3h.8M162.7 702.5h.8M173.1 692.2h.8M167.4 711.6h.8M172.8 704.7h.8M167.1 699.9h.8M166.8 691.7h.8M166.4 695.0h.8M159.9 701.0h.8M162.1 707.6h.8M169.0 707.2h.8M164.5 710.2h.8M157.3 712.3h.8M174.7 691.3h.8M168.6 702.2h.8M167.7 688.0h.8M162.8 705.5h.8M171.2 679.5h.8M166.3 709.0h.8M163.6 706.6h.8M164.5 694.3h.8M160.4 701.2h.8M166.5 702.3h.8M158.6 701.4h.8M161.7 707.3h.8M163.6 699.9h.8M170.2 705.3h.8M166.4 715.7h.8M162.4 705.4h.8M167.8 706.5h.8M168.6 707.1h.8M172.8 706.7h.8M165.0 696.1h.8M171.5 707.0h.8M167.3 703.5h.8M165.4 692.0h.8M157.6 691.1h.8M170.7 671.9h.8M173.7 697.6h.8M165.7 701.5h.8M167.5 694.9h.8M162.9 708.3h.8M164.5 700.1h.8M165.5 705.5h.8M169.0 686.2h.8M166.9 696.3h.8M163.1 700.1h.8M163.0 689.7h.8M167.4 702.2h.8M159.6 687.7h.8M169.3 710.5h.8M165.3 704.8h.8M162.0 704.2h.8M164.9 695.2h.8M172.5 703.4h.8M165.5 704.7h.8M168.3 709.6h.8M158.5 703.5h.8M166.3 711.2h.8M168.7 704.4h.8M164.1 707.0h.8M162.6 701.9h.8M162.8 704.9h.8M167.7 695.3h.8M167.5 712.4h.8M161.4 704.2h.8M166.4 698.5h.8M163.7 689.5h.8M169.9 704.4h.8M172.9 699.5h.8M164.9 712.0h.8M167.7 693.6h.8M163.1 706.3h.8M172.4 696.5h.8M160.8 702.8h.8M168.2 710.7h.8M159.7 717.3h.8M166.0 693.5h.8M167.5 704.8h.8M167.2 708.5h.8M166.7 699.9h.8M156.1 703.4h.8M169.8 705.7h.8M161.6 696.6h.8M158.8 704.9h.8M165.2 705.0h.8M174.3 683.7h.8M167.8 701.4h.8M169.6 700.6h.8M158.2 688.2h.8M169.9 695.5h.8M165.4 692.2h.8M161.3 705.9h.8M170.2 706.6h.8M164.6 712.9h.8M170.4 705.0h.8M166.2 701.9h.8M158.6 704.1h.8M163.7 696.2h.8M173.1 674.7h.8M170.6 696.5h.8M167.0 697.1h.8M167.2 709.3h.8M157.8 708.6h.8M161.4 706.0h.8M167.0 705.9h.8M168.4 707.9h.8M165.9 703.3h.8M162.5 709.8h.8M165.1 688.1h.8M162.5 707.0h.8M160.9 712.9h.8M167.8 717.4h.8M166.5 701.7h.8M167.3 712.0h.8M160.8 698.3h.8M166.0 707.4h.8M169.2 706.1h.8M163.1 694.7h.8M164.4 699.0h.8M164.7 702.8h.8M162.6 693.1h.8M162.3 709.7h.8M166.7 703.0h.8M167.4 698.0h.8M170.0 690.9h.8M167.4 702.0h.8M157.0 702.1h.8M162.7 699.4h.8M169.2 711.9h.8M165.4 700.2h.8M166.2 698.1h.8M158.8 706.6h.8M166.6 708.1h.8M167.3 701.1h.8M165.6 708.5h.8M168.1 709.4h.8M171.0 703.1h.8M167.1 703.8h.8M171.5 703.4h.8M162.4 706.1h.8M168.4 707.1h.8M168.9 705.3h.8M163.4 696.9h.8M162.8 705.1h.8M158.5 710.5h.8M159.2 692.3h.8M163.1 705.3h.8M174.1 682.5h.8M170.4 696.2h.8M161.2 706.0h.8M170.1 708.3h.8M163.9 695.1h.8M162.3 706.7h.8M159.0 709.7h.8M161.7 696.1h.8M160.8 691.4h.8M166.2 701.6h.8M164.8 711.9h.8M164.1 699.0h.8M162.6 694.7h.8M165.9 690.5h.8M167.8 703.3h.8M158.7 711.4h.8M168.7 703.9h.8M165.1 709.1h.8M162.5 706.7h.8M163.1 708.5h.8M165.2 693.0h.8M167.4 716.2h.8M166.0 706.7h.8M168.3 695.4h.8M162.1 702.5h.8M160.7 693.7h.8M159.6 691.6h.8M163.9 703.6h.8M168.7 693.6h.8M163.5 704.2h.8M169.1 711.9h.8M165.7 704.4h.8M170.0 695.7h.8M168.8 694.3h.8M174.8 697.7h.8M167.0 673.2h.8M163.8 687.6h.8M173.9 705.1h.8M165.6 707.4h.8M166.2 712.5h.8M169.8 712.7h.8M171.1 716.6h.8M167.1 694.5h.8M168.1 681.8h.8M162.6 693.4h.8M164.5 708.8h.8M162.7 704.6h.8M168.5 711.3h.8M167.0 698.7h.8M165.9 704.8h.8M166.0 691.6h.8M160.5 693.2h.8M158.1 710.2h.8M162.5 699.2h.8M161.7 699.7h.8M172.1 694.0h.8M164.9 705.7h.8M164.8 700.0h.8M163.3 693.4h.8M156.7 702.5h.8M162.4 706.3h.8M167.6 699.3h.8M162.6 692.8h.8M165.5 714.0h.8M164.4 701.4h.8M168.2 698.5h.8M161.7 714.7h.8M168.3 689.9h.8M165.5 704.8h.8M169.7 701.2h.8M168.4 690.0h.8M160.1 698.0h.8M159.1 698.5h.8M163.7 699.7h.8M168.3 706.8h.8M166.7 693.9h.8M159.0 713.5h.8M161.8 702.3h.8M163.0 706.3h.8M160.7 695.7h.8M164.7 703.7h.8M167.2 698.5h.8M171.2 692.0h.8M166.1 704.0h.8M162.0 709.8h.8M168.5 704.8h.8M166.1 703.3h.8M164.1 697.3h.8M174.1 696.8h.8M166.2 704.0h.8M163.4 705.4h.8M158.8 684.4h.8M162.0 698.9h.8M169.3 702.2h.8M167.2 684.9h.8M165.7 705.4h.8M164.4 703.9h.8M163.5 691.2h.8M162.6 708.9h.8M164.8 701.9h.8M160.7 711.6h.8M161.1 707.6h.8M174.3 700.3h.8M165.1 706.6h.8M168.4 685.4h.8M161.4 716.9h.8M164.2 701.7h.8M171.2 693.3h.8M156.6 695.8h.8M170.2 694.8h.8M165.6 696.8h.8M161.8 697.8h.8M170.6 680.5h.8M162.4 709.4h.8M157.9 709.6h.8M164.0 696.3h.8M163.6 704.3h.8M157.8 698.7h.8M160.7 705.7h.8M169.5 706.2h.8M162.0 707.1h.8M160.2 695.4h.8M161.5 690.4h.8M162.7 702.0h.8M167.8 711.0h.8M162.5 702.4h.8M166.5 705.9h.8M171.8 693.3h.8M170.2 709.3h.8M169.4 703.3h.8M165.5 713.8h.8M165.0 699.5h.8M163.9 689.8h.8M171.3 711.5h.8M157.8 707.4h.8M166.1 705.6h.8M166.5 709.4h.8M162.5 672.7h.8M162.8 701.5h.8M168.1 703.4h.8M157.3 691.3h.8M161.1 708.9h.8M175.8 701.2h.8M168.1 705.2h.8M171.6 698.4h.8M168.1 697.8h.8M157.6 706.6h.8M165.5 704.7h.8M153.2 701.6h.8M172.3 709.0h.8M167.4 708.2h.8M168.3 704.5h.8M168.5 714.9h.8M166.0 714.9h.8M167.3 713.0h.8M162.5 696.7h.8M171.9 710.6h.8M162.2 687.8h.8M167.7 691.4h.8M167.9 708.0h.8M164.6 698.4h.8M167.4 701.6h.8M167.1 707.4h.8M169.2 694.0h.8M169.0 706.2h.8M165.0 697.7h.8M167.7 686.6h.8M169.3 704.1h.8M167.9 709.1h.8M164.9 701.8h.8M172.5 703.7h.8M162.4 698.1h.8M166.6 693.9h.8M166.6 690.3h.8M158.8 708.5h.8M163.9 703.2h.8M166.3 696.9h.8M166.9 705.3h.8M161.4 704.5h.8M161.6 699.5h.8M166.9 689.0h.8M167.4 695.3h.8M168.5 705.9h.8M162.3 677.0h.8M177.1 705.7h.8M168.5 700.5h.8M167.2 700.3h.8M162.5 708.9h.8M162.0 703.7h.8M171.6 711.6h.8M163.1 677.0h.8M170.4 704.3h.8M164.7 665.5h.8M159.2 703.6h.8M179.2 706.6h.8" stroke="#000" stroke-width="0.8" fill="none" opacity="0.72"/>
<rect x="274.30" y="598.60" width="137.10" height="125.10" fill="none" stroke="#000" stroke-width="1.2"/>
<rect x="320.80" y="652.00" width="40.50" height="41.00" fill="none" stroke="#000" stroke-width="0.9"/>
<line x1="270.50" y1="611.20" x2="274.30" y2="611.20" stroke="#000" stroke-width="1.0"/>
<text x="258.30" y="616.00" font-family="Liberation Sans, sans-serif" font-size="7.1" font-weight="bold">10<tspan dy="-3.4" font-size="5.4">5</tspan></text>
<line x1="270.50" y1="639.30" x2="274.30" y2="639.30" stroke="#000" stroke-width="1.0"/>
<text x="258.30" y="644.10" font-family="Liberation Sans, sans-serif" font-size="7.1" font-weight="bold">10<tspan dy="-3.4" font-size="5.4">4</tspan></text>
<line x1="270.50" y1="667.50" x2="274.30" y2="667.50" stroke="#000" stroke-width="1.0"/>
<text x="258.30" y="672.30" font-family="Liberation Sans, sans-serif" font-size="7.1" font-weight="bold">10<tspan dy="-3.4" font-size="5.4">3</tspan></text>
<line x1="270.50" y1="698.70" x2="274.30" y2="698.70" stroke="#000" stroke-width="1.0"/>
<text x="258.30" y="703.50" font-family="Liberation Sans, sans-serif" font-size="7.1" font-weight="bold">10<tspan dy="-3.4" font-size="5.4">2</tspan></text>
<line x1="270.50" y1="712.00" x2="274.30" y2="712.00" stroke="#000" stroke-width="1.0"/>
<text x="260.80" y="714.60" font-family="Liberation Sans, sans-serif" font-size="7.1" font-weight="bold">0</text>
<line x1="272.30" y1="630.84" x2="274.30" y2="630.84" stroke="#333" stroke-width="0.7"/>
<line x1="272.30" y1="625.89" x2="274.30" y2="625.89" stroke="#333" stroke-width="0.7"/>
<line x1="272.30" y1="622.38" x2="274.30" y2="622.38" stroke="#333" stroke-width="0.7"/>
<line x1="272.30" y1="619.66" x2="274.30" y2="619.66" stroke="#333" stroke-width="0.7"/>
<line x1="272.30" y1="617.43" x2="274.30" y2="617.43" stroke="#333" stroke-width="0.7"/>
<line x1="272.30" y1="615.55" x2="274.30" y2="615.55" stroke="#333" stroke-width="0.7"/>
<line x1="272.30" y1="613.92" x2="274.30" y2="613.92" stroke="#333" stroke-width="0.7"/>
<line x1="272.30" y1="612.49" x2="274.30" y2="612.49" stroke="#333" stroke-width="0.7"/>
<line x1="272.30" y1="659.01" x2="274.30" y2="659.01" stroke="#333" stroke-width="0.7"/>
<line x1="272.30" y1="654.05" x2="274.30" y2="654.05" stroke="#333" stroke-width="0.7"/>
<line x1="272.30" y1="650.52" x2="274.30" y2="650.52" stroke="#333" stroke-width="0.7"/>
<line x1="272.30" y1="647.79" x2="274.30" y2="647.79" stroke="#333" stroke-width="0.7"/>
<line x1="272.30" y1="645.56" x2="274.30" y2="645.56" stroke="#333" stroke-width="0.7"/>
<line x1="272.30" y1="643.67" x2="274.30" y2="643.67" stroke="#333" stroke-width="0.7"/>
<line x1="272.30" y1="642.03" x2="274.30" y2="642.03" stroke="#333" stroke-width="0.7"/>
<line x1="272.30" y1="640.59" x2="274.30" y2="640.59" stroke="#333" stroke-width="0.7"/>
<line x1="272.30" y1="689.31" x2="274.30" y2="689.31" stroke="#333" stroke-width="0.7"/>
<line x1="272.30" y1="683.81" x2="274.30" y2="683.81" stroke="#333" stroke-width="0.7"/>
<line x1="272.30" y1="679.92" x2="274.30" y2="679.92" stroke="#333" stroke-width="0.7"/>
<line x1="272.30" y1="676.89" x2="274.30" y2="676.89" stroke="#333" stroke-width="0.7"/>
<line x1="272.30" y1="674.42" x2="274.30" y2="674.42" stroke="#333" stroke-width="0.7"/>
<line x1="272.30" y1="672.33" x2="274.30" y2="672.33" stroke="#333" stroke-width="0.7"/>
<line x1="272.30" y1="670.52" x2="274.30" y2="670.52" stroke="#333" stroke-width="0.7"/>
<line x1="272.30" y1="668.93" x2="274.30" y2="668.93" stroke="#333" stroke-width="0.7"/>
<line x1="272.30" y1="717.32" x2="274.30" y2="717.32" stroke="#333" stroke-width="0.7"/>
<line x1="272.30" y1="714.66" x2="274.30" y2="714.66" stroke="#333" stroke-width="0.7"/>
<line x1="272.30" y1="712.00" x2="274.30" y2="712.00" stroke="#333" stroke-width="0.7"/>
<line x1="272.30" y1="709.34" x2="274.30" y2="709.34" stroke="#333" stroke-width="0.7"/>
<line x1="272.30" y1="706.68" x2="274.30" y2="706.68" stroke="#333" stroke-width="0.7"/>
<line x1="272.30" y1="704.02" x2="274.30" y2="704.02" stroke="#333" stroke-width="0.7"/>
<line x1="272.30" y1="701.36" x2="274.30" y2="701.36" stroke="#333" stroke-width="0.7"/>
<line x1="287.50" y1="723.70" x2="287.50" y2="726.90" stroke="#000" stroke-width="1.0"/>
<text x="285.50" y="741.50" font-family="Liberation Sans, sans-serif" font-size="7.1" font-weight="bold">0</text>
<line x1="303.50" y1="723.70" x2="303.50" y2="726.90" stroke="#000" stroke-width="1.0"/>
<text x="297.90" y="741.50" font-family="Liberation Sans, sans-serif" font-size="7.1" font-weight="bold">10<tspan dy="-3.4" font-size="5.4">2</tspan></text>
<line x1="336.30" y1="723.70" x2="336.30" y2="726.90" stroke="#000" stroke-width="1.0"/>
<text x="330.70" y="741.50" font-family="Liberation Sans, sans-serif" font-size="7.1" font-weight="bold">10<tspan dy="-3.4" font-size="5.4">3</tspan></text>
<line x1="365.00" y1="723.70" x2="365.00" y2="726.90" stroke="#000" stroke-width="1.0"/>
<text x="359.40" y="741.50" font-family="Liberation Sans, sans-serif" font-size="7.1" font-weight="bold">10<tspan dy="-3.4" font-size="5.4">4</tspan></text>
<line x1="394.00" y1="723.70" x2="394.00" y2="726.90" stroke="#000" stroke-width="1.0"/>
<text x="388.40" y="741.50" font-family="Liberation Sans, sans-serif" font-size="7.1" font-weight="bold">10<tspan dy="-3.4" font-size="5.4">5</tspan></text>
<line x1="313.37" y1="723.70" x2="313.37" y2="725.60" stroke="#333" stroke-width="0.7"/>
<line x1="319.15" y1="723.70" x2="319.15" y2="725.60" stroke="#333" stroke-width="0.7"/>
<line x1="323.25" y1="723.70" x2="323.25" y2="725.60" stroke="#333" stroke-width="0.7"/>
<line x1="326.43" y1="723.70" x2="326.43" y2="725.60" stroke="#333" stroke-width="0.7"/>
<line x1="329.02" y1="723.70" x2="329.02" y2="725.60" stroke="#333" stroke-width="0.7"/>
<line x1="331.22" y1="723.70" x2="331.22" y2="725.60" stroke="#333" stroke-width="0.7"/>
<line x1="333.12" y1="723.70" x2="333.12" y2="725.60" stroke="#333" stroke-width="0.7"/>
<line x1="334.80" y1="723.70" x2="334.80" y2="725.60" stroke="#333" stroke-width="0.7"/>
<line x1="344.94" y1="723.70" x2="344.94" y2="725.60" stroke="#333" stroke-width="0.7"/>
<line x1="349.99" y1="723.70" x2="349.99" y2="725.60" stroke="#333" stroke-width="0.7"/>
<line x1="353.58" y1="723.70" x2="353.58" y2="725.60" stroke="#333" stroke-width="0.7"/>
<line x1="356.36" y1="723.70" x2="356.36" y2="725.60" stroke="#333" stroke-width="0.7"/>
<line x1="358.63" y1="723.70" x2="358.63" y2="725.60" stroke="#333" stroke-width="0.7"/>
<line x1="360.55" y1="723.70" x2="360.55" y2="725.60" stroke="#333" stroke-width="0.7"/>
<line x1="362.22" y1="723.70" x2="362.22" y2="725.60" stroke="#333" stroke-width="0.7"/>
<line x1="363.69" y1="723.70" x2="363.69" y2="725.60" stroke="#333" stroke-width="0.7"/>
<line x1="373.73" y1="723.70" x2="373.73" y2="725.60" stroke="#333" stroke-width="0.7"/>
<line x1="378.84" y1="723.70" x2="378.84" y2="725.60" stroke="#333" stroke-width="0.7"/>
<line x1="382.46" y1="723.70" x2="382.46" y2="725.60" stroke="#333" stroke-width="0.7"/>
<line x1="385.27" y1="723.70" x2="385.27" y2="725.60" stroke="#333" stroke-width="0.7"/>
<line x1="387.57" y1="723.70" x2="387.57" y2="725.60" stroke="#333" stroke-width="0.7"/>
<line x1="389.51" y1="723.70" x2="389.51" y2="725.60" stroke="#333" stroke-width="0.7"/>
<line x1="391.19" y1="723.70" x2="391.19" y2="725.60" stroke="#333" stroke-width="0.7"/>
<line x1="392.67" y1="723.70" x2="392.67" y2="725.60" stroke="#333" stroke-width="0.7"/>
<line x1="277.90" y1="723.70" x2="277.90" y2="725.60" stroke="#333" stroke-width="0.7"/>
<line x1="281.10" y1="723.70" x2="281.10" y2="725.60" stroke="#333" stroke-width="0.7"/>
<line x1="284.30" y1="723.70" x2="284.30" y2="725.60" stroke="#333" stroke-width="0.7"/>
<line x1="287.50" y1="723.70" x2="287.50" y2="725.60" stroke="#333" stroke-width="0.7"/>
<line x1="290.70" y1="723.70" x2="290.70" y2="725.60" stroke="#333" stroke-width="0.7"/>
<line x1="293.90" y1="723.70" x2="293.90" y2="725.60" stroke="#333" stroke-width="0.7"/>
<line x1="297.10" y1="723.70" x2="297.10" y2="725.60" stroke="#333" stroke-width="0.7"/>
<line x1="300.30" y1="723.70" x2="300.30" y2="725.60" stroke="#333" stroke-width="0.7"/>
<text x="293.00" y="613.60" font-family="Liberation Sans, sans-serif" font-size="14.5" font-weight="bold" stroke="#000" stroke-width="0.3" text-anchor="start">ii</text>
<text x="376.80" y="617.60" font-family="Liberation Sans, sans-serif" font-size="6.2" font-weight="bold" stroke="#000" stroke-width="0.3" text-anchor="start">11.4%</text>
<path d="M339.0 706.2h.8M338.8 703.3h.8M338.0 701.5h.8M335.7 700.9h.8M337.9 701.5h.8M340.6 691.1h.8M339.1 699.2h.8M338.5 702.3h.8M339.8 706.6h.8M336.7 704.2h.8M336.0 710.0h.8M337.5 707.2h.8M335.8 711.4h.8M336.9 704.5h.8M340.9 712.2h.8M338.7 688.6h.8M343.2 706.8h.8M339.3 682.7h.8M342.8 699.2h.8M340.9 699.5h.8M339.8 711.8h.8M346.9 712.5h.8M336.2 714.0h.8M334.9 702.1h.8M336.0 703.2h.8M342.6 692.7h.8M335.7 703.7h.8M338.0 696.4h.8M342.1 695.1h.8M332.7 703.5h.8M343.1 706.2h.8M339.6 703.1h.8M341.1 704.4h.8M340.3 708.9h.8M333.7 701.8h.8M336.3 696.7h.8M339.8 699.0h.8M338.9 705.2h.8M341.6 703.7h.8M338.3 706.4h.8M336.2 699.2h.8M339.4 696.3h.8M339.3 706.2h.8M341.7 695.0h.8M339.5 704.1h.8M337.2 711.3h.8M337.4 702.2h.8M341.8 695.2h.8M333.1 694.1h.8M337.7 704.7h.8M333.8 700.7h.8M332.8 704.6h.8M338.2 698.0h.8M337.7 693.4h.8M339.6 695.5h.8M335.2 709.0h.8M337.9 699.2h.8M336.1 702.8h.8M339.7 695.9h.8M336.0 705.7h.8M340.6 708.9h.8M346.4 711.7h.8M341.3 697.3h.8M334.1 697.0h.8M341.1 709.8h.8M340.1 713.7h.8M335.1 711.8h.8M338.4 701.8h.8M336.1 700.9h.8M337.9 691.8h.8M341.7 707.8h.8M335.3 702.1h.8M336.5 679.2h.8M338.9 710.0h.8M338.4 705.8h.8M337.0 712.5h.8M337.5 714.5h.8M344.1 712.4h.8M332.0 695.2h.8M337.7 709.4h.8M339.5 708.0h.8M335.4 700.8h.8M341.9 692.5h.8M339.6 701.0h.8M342.3 701.5h.8M346.0 702.3h.8M336.1 699.7h.8M337.4 683.4h.8M335.7 701.6h.8M339.2 704.4h.8M337.2 706.9h.8M342.9 695.7h.8M335.4 711.9h.8M338.9 703.4h.8M336.1 704.1h.8M340.5 693.3h.8M336.0 705.7h.8M341.2 700.6h.8M337.8 695.0h.8M337.1 712.2h.8M336.3 710.8h.8M335.6 695.3h.8M332.2 708.7h.8M337.9 703.7h.8M336.7 707.9h.8M335.1 704.5h.8M340.1 708.9h.8M345.0 702.3h.8M337.7 699.5h.8M340.3 710.2h.8M342.0 704.4h.8M340.2 704.4h.8M339.6 702.3h.8M340.5 708.4h.8M340.3 709.0h.8M341.7 705.5h.8M337.0 703.6h.8M336.8 697.0h.8M339.7 694.3h.8M341.4 703.4h.8M337.3 693.2h.8M338.6 710.3h.8M339.4 702.7h.8M335.3 703.0h.8M334.0 710.3h.8M337.0 710.1h.8M340.8 712.0h.8M337.8 702.5h.8M335.4 709.9h.8M340.6 705.8h.8M341.4 709.3h.8M333.8 709.8h.8M344.6 696.0h.8M338.4 705.4h.8M336.5 699.3h.8M336.3 698.5h.8M339.9 700.9h.8M339.3 707.1h.8M339.1 690.7h.8M337.8 705.8h.8M340.0 703.4h.8M339.0 702.5h.8M336.5 695.3h.8M336.7 698.1h.8M340.1 712.7h.8M338.5 703.9h.8M339.7 702.8h.8M338.0 710.3h.8M341.5 710.6h.8M336.3 702.8h.8M334.6 706.7h.8M336.6 708.7h.8M338.4 691.6h.8M341.3 696.6h.8M344.5 707.5h.8M332.5 703.5h.8M338.6 703.0h.8M339.6 699.7h.8M344.3 702.6h.8M338.5 706.5h.8M337.0 705.9h.8M341.2 709.5h.8M338.7 708.9h.8M329.4 709.3h.8M336.8 713.0h.8M336.3 702.8h.8M331.8 701.1h.8M336.7 699.1h.8M339.3 692.6h.8M337.9 708.4h.8M340.5 705.6h.8M337.6 699.7h.8M337.2 708.7h.8M339.0 705.8h.8M342.9 703.9h.8M337.0 692.2h.8M342.2 708.9h.8M339.7 709.4h.8M341.8 701.2h.8M344.0 700.7h.8M338.5 706.7h.8M339.3 695.9h.8M340.0 710.1h.8M340.7 702.6h.8M341.8 695.3h.8M340.5 711.9h.8M336.2 708.4h.8M339.5 701.4h.8M335.1 701.8h.8M336.0 691.3h.8M337.8 694.4h.8M338.5 702.7h.8M337.7 707.8h.8M341.7 697.8h.8M336.9 705.4h.8M346.4 704.5h.8M339.5 697.9h.8M336.8 699.8h.8M337.0 708.3h.8M342.6 692.3h.8M337.7 708.9h.8M336.9 707.7h.8M337.2 708.7h.8M344.0 684.6h.8M334.0 692.8h.8M344.3 707.8h.8M336.9 712.1h.8M338.0 694.6h.8M336.7 705.1h.8M338.1 702.2h.8M335.9 702.0h.8M335.1 697.7h.8M341.0 701.9h.8M339.3 708.6h.8M336.4 706.5h.8M337.0 701.0h.8M337.9 700.1h.8M337.5 710.0h.8M341.7 709.9h.8M339.8 696.1h.8M341.6 702.0h.8M334.2 711.4h.8M338.3 706.4h.8M336.2 709.8h.8M337.2 711.3h.8M342.0 704.7h.8M341.0 701.8h.8M337.5 703.1h.8M336.6 692.7h.8M343.9 693.6h.8M335.9 704.2h.8M334.7 699.4h.8M334.0 699.3h.8M342.4 691.0h.8M337.5 703.1h.8M339.2 701.4h.8M339.2 691.9h.8M340.2 707.4h.8M335.5 706.4h.8M338.8 707.4h.8M341.6 702.6h.8M336.1 708.2h.8M334.9 709.7h.8M332.5 702.9h.8M340.5 712.1h.8M335.1 707.7h.8M345.4 698.8h.8M340.4 706.8h.8M337.1 692.9h.8M337.6 707.0h.8M340.8 693.2h.8M338.9 698.6h.8M339.2 704.0h.8M338.9 703.7h.8M339.2 706.2h.8M338.4 702.6h.8M336.6 700.9h.8M338.5 688.9h.8M338.1 698.1h.8M339.6 691.7h.8M334.6 697.7h.8M337.6 712.0h.8M338.4 682.3h.8M335.3 703.8h.8M333.6 699.6h.8M341.2 708.0h.8M339.4 709.4h.8M338.3 704.4h.8M340.4 704.7h.8M339.5 694.8h.8M336.5 702.7h.8M340.5 705.8h.8M338.0 698.8h.8M342.4 695.9h.8M336.8 706.8h.8M342.4 695.8h.8M331.0 709.8h.8M332.9 705.2h.8M338.5 705.3h.8M338.0 711.2h.8M337.1 706.0h.8M342.4 697.5h.8M337.8 693.0h.8M345.1 709.7h.8M340.4 695.9h.8M340.5 710.6h.8M336.6 696.9h.8M338.5 697.9h.8M337.5 700.7h.8M337.8 705.0h.8M336.1 710.6h.8M338.3 711.3h.8M341.5 701.7h.8M336.1 698.0h.8M335.7 706.4h.8M339.4 704.5h.8M336.7 697.4h.8M340.9 695.7h.8M336.5 699.3h.8M342.3 702.5h.8M331.7 700.4h.8M343.5 694.8h.8M332.3 702.8h.8M341.5 704.6h.8M339.1 698.4h.8M339.3 696.8h.8M337.4 705.3h.8M339.6 700.6h.8M338.7 695.7h.8M340.4 710.8h.8M343.8 697.3h.8M339.3 709.5h.8M338.0 698.0h.8M344.6 698.3h.8M343.6 704.1h.8M337.0 694.1h.8M341.6 700.1h.8M338.2 681.7h.8M339.0 709.0h.8M336.7 705.6h.8M338.7 698.0h.8M340.3 704.2h.8M343.0 714.7h.8M339.3 696.5h.8M333.6 701.8h.8M342.0 697.3h.8M334.8 700.4h.8M340.6 701.4h.8M340.3 695.7h.8M333.3 713.7h.8M332.0 706.4h.8M339.5 698.2h.8M339.2 697.4h.8M337.3 703.5h.8M337.5 710.4h.8M337.2 676.0h.8M339.0 712.1h.8M343.3 706.0h.8M337.4 705.2h.8M340.8 704.1h.8M337.9 697.6h.8M338.6 707.2h.8M342.1 703.9h.8M335.4 701.2h.8M341.8 695.8h.8M343.9 702.4h.8M338.1 708.2h.8M339.2 704.9h.8M334.1 708.6h.8M342.5 704.7h.8M333.5 702.2h.8M346.8 702.9h.8M335.6 707.5h.8M341.1 703.6h.8M337.3 705.6h.8M334.6 698.3h.8M334.7 701.0h.8M336.9 705.0h.8M340.4 707.2h.8M332.9 703.0h.8M335.1 699.1h.8M338.6 698.3h.8M341.5 698.4h.8M341.5 704.1h.8M338.3 698.2h.8M334.5 709.0h.8M336.9 699.4h.8M335.7 703.1h.8M337.7 704.0h.8M333.9 703.3h.8M342.3 712.2h.8M333.5 703.2h.8M338.7 708.1h.8M332.8 706.5h.8M345.0 696.5h.8M334.8 710.0h.8M340.2 706.8h.8M340.5 706.8h.8M334.0 703.4h.8M331.4 713.5h.8M334.0 706.5h.8M338.6 700.7h.8M335.1 709.9h.8M336.8 707.2h.8M340.3 704.6h.8M340.9 705.7h.8M337.9 709.8h.8M339.1 702.6h.8M340.2 701.1h.8M339.5 698.4h.8M341.2 705.6h.8M338.0 700.7h.8M335.6 697.8h.8M335.9 708.1h.8M343.4 697.1h.8M337.8 702.3h.8M336.5 704.5h.8M334.5 690.9h.8M338.7 712.6h.8M339.4 692.7h.8" stroke="#000" stroke-width="0.8" fill="none" opacity="0.72"/>
</svg></body></html>
